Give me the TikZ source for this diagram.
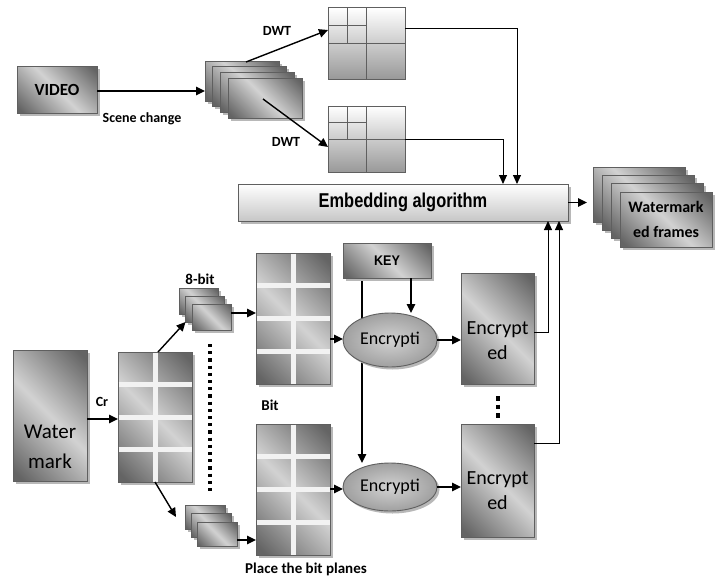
\documentclass[tikz,border=0pt]{standalone}
\usepackage{fontspec}
\setmainfont{Carlito}
\newfontfamily\narrowfont{Liberation Sans}[FakeStretch=0.82]
\newfontfamily\keyfont{Liberation Sans}[FakeStretch=0.9]
\usetikzlibrary{shadows,arrows.meta,calc,shapes.geometric}
\definecolor{mdk}{RGB}{100,100,100}
\definecolor{mlt}{RGB}{210,210,210}
\definecolor{bord}{RGB}{95,95,95}
\definecolor{wl}{RGB}{242,242,242}
\definecolor{ellin}{RGB}{210,210,210}
\definecolor{ellout}{RGB}{160,160,160}
\pgfdeclarehorizontalshading{metal}{100bp}{color(0bp)=(mdk); color(18bp)=(mdk); color(50bp)=(mlt); color(82bp)=(mdk); color(100bp)=(mdk)}
\pgfdeclarelayer{bg}
\pgfsetlayers{bg,main}
\tikzset{
  shd/.style={drop shadow={shadow xshift=2.5pt,shadow yshift=-2.5pt,fill=black!28,opacity=1}},
  metalbox/.style={draw=bord, line width=0.9pt, shading=metal, shading angle=45, shd, inner sep=0pt, outer sep=0pt},
  dgrid/.style={draw=bord, line width=1pt, top color=white, bottom color=black!40, inner sep=0pt, outer sep=0pt},
  gline/.style={draw=bord, line width=1pt},
  wline/.style={draw=wl, line width=5pt},
  embbox/.style={draw=bord, line width=0.9pt, top color=white, bottom color=black!22, shd, inner sep=0pt, outer sep=0pt},
  ell/.style={ellipse, draw=bord, line width=0.9pt, inner color=ellin, outer color=ellout, shd, inner sep=0pt, outer sep=0pt},
  lbl/.style={inner sep=0pt, font=\bfseries\fontsize{14}{16}\selectfont},
  txt/.style={inner sep=0pt, align=center},
  arr/.style={line width=1.4pt, -{Triangle[length=9pt,width=8.5pt]}},
  conn/.style={line width=1pt, -{Triangle[length=9pt,width=8pt]}},
}
\newcommand{\DGrid}[1]{%
  \draw[gline] (#1.north) -- (#1.south);
  \draw[gline] (#1.west) -- (#1.east);
  \draw[gline] ($(#1.north west)!0.5!(#1.north)$) -- ($(#1.west)!0.5!(#1.center)$);
  \draw[gline] ($(#1.north west)!0.5!(#1.west)$) -- ($(#1.north)!0.5!(#1.center)$);
}
\newcommand{\WGrid}[1]{%
  \draw[wline] ([yshift=-0.5pt]#1.north) -- ([yshift=0.5pt]#1.south);
  \foreach \f in {0.25,0.5,0.75}
    \draw[wline] ($(#1.north west)!\f!(#1.south west)+(0.5,0)$) -- ($(#1.north east)!\f!(#1.south east)+(-0.5,0)$);
}
\begin{document}
\begin{tikzpicture}[x=1pt,y=-1pt]
\begin{pgfonlayer}{bg}
\fill[white] (0,0) rectangle (719,578);
\end{pgfonlayer}
\useasboundingbox (0,0) rectangle (719,578);

% video and scene frames
\node[metalbox, minimum width=80pt, minimum height=47pt, font=\bfseries\fontsize{17}{20}\selectfont] (video) at (57,89.5) {VIDEO};
\foreach \i/\x/\y in {1/242/81, 2/249.7/86.7, 3/257.3/92.3, 4/265/98}
  \node[metalbox, minimum width=74pt, minimum height=40pt] (fr\i) at (\x,\y) {};

% DWT grids
\node[dgrid, minimum width=77pt, minimum height=71pt] (g1) at (366.5,43.5) {};
\node[dgrid, minimum width=77pt, minimum height=66pt] (g2) at (366.5,139) {};
\DGrid{g1}
\DGrid{g2}

% embedding
\node[embbox, minimum width=330pt, minimum height=37pt, font=\narrowfont\bfseries\fontsize{20}{22}\selectfont] (emb) at (403,202.5) {Embedding algorithm};

% watermarked frames
\foreach \i/\x/\y in {1/639/194.5, 2/648/202.8, 3/657/211.2}
  \node[metalbox, minimum width=92pt, minimum height=55pt] (wf\i) at (\x,\y) {};
\node[metalbox, minimum width=92pt, minimum height=55pt, align=center, font=\bfseries\fontsize{16}{25}\selectfont] (wf4) at (666,219.5) {Watermark\\ed frames};

% watermark
\node[metalbox, minimum width=74pt, minimum height=131pt] (wm) at (50,415.5) {};
\node[txt, font=\fontsize{21}{30}\selectfont] (wmtext) at (50,447) {Water\\mark};

% Cr grid
\node[metalbox, minimum width=74pt, minimum height=130pt] (cr) at (155,417) {};
\WGrid{cr}

% small stacks
\foreach \i/\x/\y in {1/198.5/301, 2/205/309, 3/211.5/317}
  \node[metalbox, minimum width=39pt, minimum height=26pt] (s\i) at (\x,\y) {};
\foreach \i/\x/\y in {1/205/517, 2/211/525.5, 3/217/534}
  \node[metalbox, minimum width=40pt, minimum height=24pt] (t\i) at (\x,\y) {};

% bit planes
\node[metalbox, minimum width=74pt, minimum height=131pt] (bp1) at (293,318.5) {};
\WGrid{bp1}
\node[metalbox, minimum width=74pt, minimum height=131pt] (bp2) at (293,489.5) {};
\WGrid{bp2}

% key and encryption
\node[metalbox, minimum width=88pt, minimum height=35pt, font=\keyfont\bfseries\fontsize{14}{16}\selectfont] (key) at (387,260.5) {KEY};
\node[ell, minimum width=94pt, minimum height=54pt, font=\fontsize{18}{20}\selectfont] (en1) at (390,340) {Encrypti};
\node[ell, minimum width=94pt, minimum height=48pt, font=\fontsize{18}{20}\selectfont] (en2) at (390,487) {Encrypti};
\node[metalbox, minimum width=73pt, minimum height=111pt] (ec1) at (497.5,328.5) {};
\node[txt, font=\fontsize{20}{25}\selectfont] (ec1text) at (497.5,341) {Encrypt\\ed};
\node[metalbox, minimum width=73pt, minimum height=113pt] (ec2) at (497.5,480.5) {};
\node[txt, font=\fontsize{20}{25}\selectfont] (ec2text) at (497.5,491) {Encrypt\\ed};

% labels
\node[lbl] (lscene) at (142,119) {Scene change};
\node[lbl] (ldwt1) at (277,31) {DWT};
\node[lbl] (ldwt2) at (286,142) {DWT};
\node[lbl, font=\bfseries\fontsize{15}{17}\selectfont] (l8bit) at (200,279) {8-bit};
\node[lbl] (lcr) at (102,402) {Cr};
\node[lbl, font=\bfseries\fontsize{15}{17}\selectfont] (lbit) at (270,405) {Bit};
\node[lbl, anchor=base, font=\bfseries\fontsize{15}{17}\selectfont] (lplace) at (306,573) {Place the bit planes};

% coordinates
\coordinate (d1s) at (246,62);
\coordinate (d2s) at (263,99);
\coordinate (dtop) at (210,344);
\coordinate (dbot) at (210,492);
\coordinate (etop) at (498,396);
\coordinate (ebot) at (498,418);

% connectors
\draw[arr] (video.east |- 0,91) -- (fr1.west |- 0,91);
\draw[arr] (d1s) -- (g1.west |- 0,30);
\draw[arr] (d2s) -- (g2.west |- 0,147);
\draw[conn] (g1.east |- 0,29) -| (emb.north -| 517,0);
\draw[conn] (g2.east |- 0,139) -| (emb.north -| 503,0);
\draw[arr] (emb.east) -- ([xshift=-6pt]emb.east -| wf1.west);

\draw[arr] (wm.east |- 0,419) -- (cr.west |- 0,419);
\draw[arr] ([xshift=3pt]cr.north) -- (s2.south west);
\draw[arr] (cr.south) -- ([xshift=-9pt]t1.west);
\draw[arr] (s3.east |- 0,313) -- (bp1.west |- 0,313);
\draw[arr] (t3.east |- 0,540) -- (bp2.west |- 0,540);
\draw[arr] (bp1.east |- 0,339) -- (en1.west |- 0,339);
\draw[arr] (bp2.east |- 0,489) -- (en2.west |- 0,489);
\draw[arr] (key.south -| 411,0) -- (en1.north -| 411,0);
\begin{pgfonlayer}{bg}
\draw[arr] (key.south -| 362,0) -- (en2.north -| 362,0);
\end{pgfonlayer}
\draw[arr] (en1.east) -- (en1.east -| ec1.west);
\draw[arr] (en2.east) -- (en2.east -| ec2.west);
\draw[conn] (ec1.east |- 0,332) -| (emb.south -| 548,0);
\draw[conn] (ec2.east |- 0,443) -| (emb.south -| 559,0);

% dotted lines
\draw[line width=3.2pt, dash pattern=on 3.2pt off 4pt] (dtop) -- (dbot);
\draw[line width=3.5pt, dash pattern=on 4.5pt off 4pt] (etop) -- (ebot);
\end{tikzpicture}
\end{document}
